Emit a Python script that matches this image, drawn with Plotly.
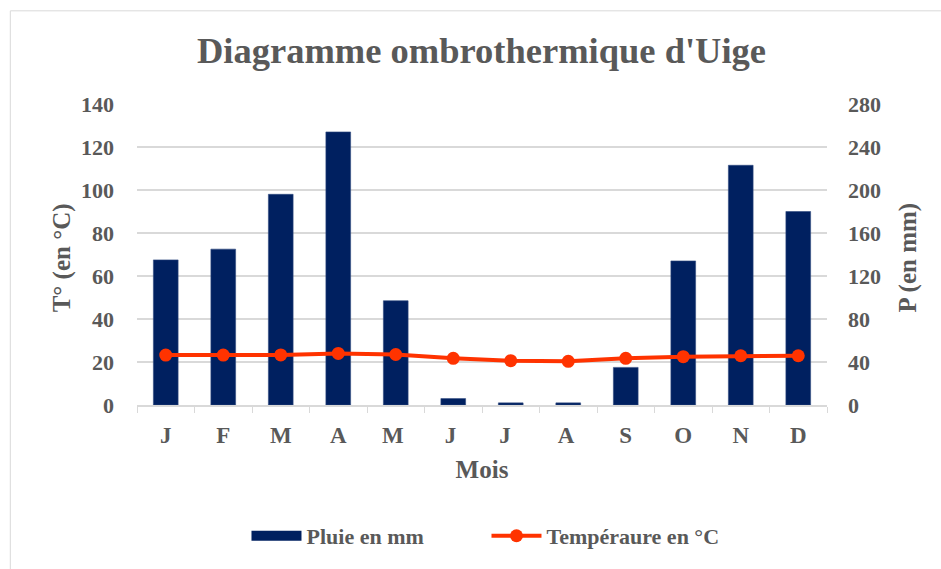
import plotly.graph_objects as go

# Monthly climate data for Uige
mois = ["J", "F", "M", "A", "M ", "J ", "J  ", "A ", "S", "O", "N", "D"]
pluie_mm = [135, 145, 196, 254, 97, 6, 2, 2, 35, 134, 223, 180]
temperature_c = [23.2, 23.2, 23.3, 24.0, 23.5, 21.7, 20.6, 20.3, 21.7, 22.5, 22.9, 22.9]

temp_ticks = list(range(0, 141, 20))
pluie_ticks = list(range(0, 281, 40))

FONT = "Liberation Serif"
GREY = "#595959"
GRID = "#d9d9d9"
BLUE = "#002060"
RED = "#FF3300"

fig = go.Figure()

# Rainfall bars; the legend swatch is a wide line entry in the same group
fig.add_trace(go.Bar(
    x=mois, y=pluie_mm, name="Pluie en mm",
    marker=dict(color=BLUE, line=dict(color="#2f4a80", width=0.6)),
    yaxis="y", legendgroup="pluie", showlegend=False,
))
fig.add_trace(go.Scatter(
    x=[None], y=[None], name="Pluie en mm", mode="lines",
    line=dict(color=BLUE, width=10), yaxis="y", legendgroup="pluie",
))

# Temperature line on the left axis
fig.add_trace(go.Scatter(
    x=mois, y=temperature_c, name="Tempéraure en °C",
    mode="lines+markers",
    line=dict(color=RED, width=4),
    marker=dict(color=RED, size=13),
    yaxis="y2",
))

tick_font = dict(family=FONT, size=22, color=GREY, weight="bold")
xtick_font = dict(family=FONT, size=23, color=GREY, weight="bold")
title_font = dict(family=FONT, size=25, color=GREY, weight="bold")

fig.update_layout(
    width=941, height=569,
    margin=dict(l=137, r=114, t=104, b=161),
    paper_bgcolor="white", plot_bgcolor="white",
    bargap=0.57,
    showlegend=True,
    title=dict(
        text="Diagramme ombrothermique d'Uige",
        font=dict(family=FONT, size=36.5, color=GREY, weight="bold"),
        x=0.5117, xanchor="center", y=0.912, yanchor="middle",
    ),
    xaxis=dict(
        type="category", automargin=False,
        range=[-0.5, len(mois) - 0.5],
        showgrid=False,
        showline=True, linecolor=GRID, linewidth=1.5,
        ticks="outside", tickson="boundaries", ticklen=6, tickcolor=GRID,
        tickfont=xtick_font, ticklabelstandoff=9,
        title=dict(text="Mois", font=title_font, standoff=13),
    ),
    yaxis=dict(
        side="right", automargin=False,
        range=[0, 280], tickvals=pluie_ticks,
        showgrid=True, gridcolor=GRID, gridwidth=1.5,
        zeroline=False, showline=False,
        tickfont=tick_font, ticklabelstandoff=20,
    ),
    yaxis2=dict(
        side="left", overlaying="y", automargin=False,
        range=[0, 140], tickvals=temp_ticks,
        showgrid=False, zeroline=False, showline=False,
        tickfont=tick_font, ticklabelstandoff=22,
    ),
    legend=dict(
        orientation="h",
        x=0.5065, xanchor="center", y=-0.435, yanchor="middle",
        font=dict(family=FONT, size=22, color=GREY, weight="bold"),
        itemwidth=50, entrywidth=175, entrywidthmode="pixels",
    ),
    annotations=[
        dict(text="T° (en °C)", textangle=-90, xref="paper", yref="paper",
             x=-0.109, y=0.49, xanchor="center", yanchor="middle",
             showarrow=False, font=title_font),
        dict(text="P (en mm)", textangle=-90, xref="paper", yref="paper",
             x=1.116, y=0.49, xanchor="center", yanchor="middle",
             showarrow=False, font=title_font),
    ],
    shapes=[
        dict(type="rect", xref="paper", yref="paper",
             x0=-0.1836, x1=1.2, y0=-0.6, y1=1.3095,
             line=dict(color=GRID, width=1), fillcolor="rgba(0,0,0,0)", layer="below"),
    ],
)

fig.write_html("out.html")
